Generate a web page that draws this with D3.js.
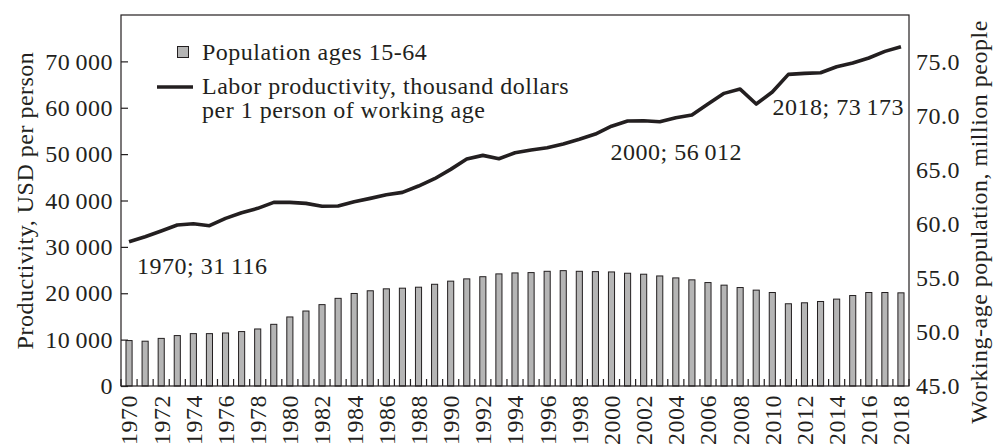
<!DOCTYPE html>
<html>
<head>
<meta charset="utf-8">
<script src="https://cdn.jsdelivr.net/npm/d3@7"></script>
<style>
  html, body { margin: 0; padding: 0; background: #fff; }
  svg text { font-family: "Liberation Serif", "Times New Roman", serif; fill: #231f20; }
</style>
</head>
<body>
<svg id="chart" width="995" height="446"></svg>
<script>
// ---- data ----
const years = d3.range(1970, 2019);
const productivity = [31116, 32190, 33420, 34710, 34990, 34560, 36150, 37370, 38310, 39600,
  39600, 39380, 38750, 38800, 39740, 40460, 41250, 41750, 43120, 44700,
  46710, 48940, 49730, 49010, 50300, 50880, 51380, 52180, 53190, 54330,
  56012, 57130, 57200, 56990, 57850, 58430, 60800, 63100, 64030, 60800,
  63390, 67200, 67420, 67550, 68840, 69640, 70720, 72160, 73173];
const population = [49.2, 49.14, 49.4, 49.66, 49.84, 49.84, 49.9, 50.03, 50.27, 50.7,
  51.38, 51.93, 52.52, 53.1, 53.55, 53.8, 53.98, 54.04, 54.13, 54.4,
  54.69, 54.9, 55.1, 55.36, 55.45, 55.48, 55.6, 55.66, 55.6, 55.57,
  55.54, 55.42, 55.33, 55.17, 54.99, 54.81, 54.56, 54.32, 54.1, 53.86,
  53.64, 52.6, 52.69, 52.81, 53.03, 53.36, 53.64, 53.64, 53.61];
const leftTicks = [0, 10000, 20000, 30000, 40000, 50000, 60000, 70000];
const rightTicks = [45, 50, 55, 60, 65, 70, 75];
const xLabelYears = years.filter(y => (y - 1970) % 2 === 0);
const annotYears = [1970, 2000, 2018];
const seriesNames = ["Population ages 15-64", "Labor productivity, thousand dollars", "per 1 person of working age"];
const leftTitle = "Productivity, USD per person";
const rightTitle = "Working-age population, million people";

// ---- layout ----
const L = 121, R = 909, T = 15, B = 386;
const svg = d3.select("#chart");
const fs = 24, ls = "0.5px";

const loc = d3.formatLocale({decimal: ".", thousands: "\u2009", grouping: [3], currency: ["", ""]});
const fmtK = loc.format(",d");
const fmt1 = d3.format(".1f");

const x = d3.scaleBand().domain(years).range([L, R]).paddingInner(0.62).paddingOuter(0.31);
const yL = d3.scaleLinear().domain([0, 80000]).range([B, T]);
const yR = d3.scaleLinear().domain([45, 45 + 30 * 8 / 7]).range([B, T]);
const cx = d => x(d) + x.bandwidth() / 2;

// bars
svg.append("g").selectAll("rect").data(years).join("rect")
  .attr("x", d => x(d))
  .attr("width", x.bandwidth())
  .attr("y", (d, i) => yR(population[i]))
  .attr("height", (d, i) => yR(45) - yR(population[i]))
  .attr("fill", "#b5b5b5")
  .attr("stroke", "#231f20")
  .attr("stroke-width", 1);

// line
const line = d3.line().x(d => cx(d)).y((d, i) => yL(productivity[i]));
svg.append("path").datum(years)
  .attr("d", line)
  .attr("fill", "none")
  .attr("stroke", "#231f20")
  .attr("stroke-width", 3.6)
  .attr("stroke-linejoin", "round");

// frame
svg.append("rect").attr("x", L).attr("y", T).attr("width", R - L).attr("height", B - T)
  .attr("fill", "none").attr("stroke", "#231f20").attr("stroke-width", 1.2);

// left axis
const gL = svg.append("g").attr("transform", `translate(${L},0)`)
  .call(d3.axisLeft(yL).tickValues(leftTicks).tickSize(-7).tickPadding(8).tickFormat(fmtK));
gL.select(".domain").remove();
gL.selectAll("line").attr("stroke", "#231f20").attr("stroke-width", 1.2);
gL.selectAll("text").attr("font-size", fs).style("letter-spacing", ls).attr("fill", "#231f20")
  .attr("font-family", "Liberation Serif");

// right axis
const gR = svg.append("g").attr("transform", `translate(${R},0)`)
  .call(d3.axisRight(yR).tickValues(rightTicks).tickSize(0).tickPadding(7).tickFormat(fmt1));
gR.select(".domain").remove();
gR.selectAll("text").attr("font-size", fs).style("letter-spacing", ls).attr("fill", "#231f20")
  .attr("font-family", "Liberation Serif");

// bottom ticks at band boundaries
const step = x.step();
svg.append("g").selectAll("line").data(d3.range(years.length + 1)).join("line")
  .attr("x1", i => L + i * step).attr("x2", i => L + i * step)
  .attr("y1", B).attr("y2", B - 7)
  .attr("stroke", "#231f20").attr("stroke-width", 1.2);

// x labels
svg.append("g").selectAll("text").data(xLabelYears).join("text")
  .attr("transform", d => `translate(${cx(d)},${B + 9}) rotate(-90)`)
  .attr("text-anchor", "end")
  .attr("dy", "0.35em")
  .attr("font-size", fs).style("letter-spacing", ls)
  .text(d => d);

// axis titles
svg.append("text")
  .attr("transform", `translate(33,${(T + B) / 2}) rotate(-90)`)
  .attr("text-anchor", "middle")
  .attr("font-size", fs).style("letter-spacing", ls)
  .text(leftTitle);
svg.append("text")
  .attr("transform", `translate(987,222) rotate(-90)`)
  .attr("text-anchor", "middle")
  .attr("font-size", fs).style("letter-spacing", ls)
  .text(rightTitle);

// annotations
const annotOffsets = {1970: [8, 32, "start"], 2000: [-1, 34, "start"], 2018: [3, 68, "end"]};
svg.append("g").selectAll("text").data(annotYears).join("text")
  .attr("x", d => cx(d) + annotOffsets[d][0])
  .attr("y", d => yL(productivity[years.indexOf(d)]) + annotOffsets[d][1])
  .attr("text-anchor", d => annotOffsets[d][2])
  .attr("font-size", fs).style("letter-spacing", ls)
  .text(d => `${d}; ${fmtK(productivity[years.indexOf(d)])}`);

// legend
const lg = svg.append("g");
lg.append("rect").attr("x", 177.5).attr("y", 46.5).attr("width", 11).attr("height", 11)
  .attr("fill", "#b5b5b5").attr("stroke", "#231f20").attr("stroke-width", 1);
lg.append("text").attr("x", 202).attr("y", 59.5).attr("font-size", fs).style("letter-spacing", ls).text(seriesNames[0]);
lg.append("line").attr("x1", 157).attr("x2", 193).attr("y1", 87).attr("y2", 87)
  .attr("stroke", "#231f20").attr("stroke-width", 3.6);
lg.append("text").attr("x", 202).attr("y", 94).attr("font-size", fs).style("letter-spacing", ls).text(seriesNames[1]);
lg.append("text").attr("x", 202).attr("y", 118).attr("font-size", fs).style("letter-spacing", ls).text(seriesNames[2]);
</script>
</body>
</html>
